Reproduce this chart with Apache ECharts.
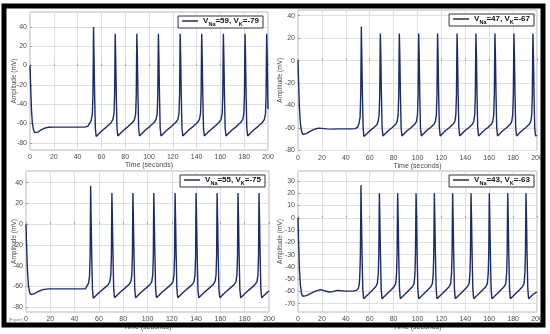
<!DOCTYPE html>
<html>
<head>
<meta charset="utf-8">
<script src="https://cdn.jsdelivr.net/npm/echarts@6/dist/echarts.min.js"></script>
<style>html,body{margin:0;padding:0;background:#fff;}#c{width:550px;height:334px;}</style>
</head>
<body>
<div id="c"></div>
<script>
// Time axis ticks (seconds)
const timeTicks = [0, 20, 40, 60, 80, 100, 120, 140, 160, 180, 200];
// Amplitude ticks for each panel (mV)
const ampTicks1 = [-80, -60, -40, -20, 0, 20, 40];
const ampTicks2 = [-80, -60, -40, -20, 0, 20, 40];
const ampTicks3 = [-80, -60, -40, -20, 0, 20, 40];
const ampTicks4 = [-70, -60, -50, -40, -30, -20, -10, 0, 10, 20, 30];

// Legend parameters
const vNa = [59, 47, 55, 43];
const vK = [-79, -67, -75, -63];

// Panel 1 trace: V_Na=59, V_K=-79 (time, mV)
const trace1 = [
[0,0],[0.5,-20],[1.2,-45],[2,-60],[3,-67],[4,-69.5],[5,-70],[6.5,-69],[9,-67],[12,-65],[15,-64],[20,-63.8],[30,-63.8],[40,-63.8],[46,-63.8],[48.5,-63],[50,-61.5],[51.4,-57],
[52.4,-50],[52.9,-30],[53.2,10],[53.4,40],[53.8,10],[54.3,-30],[54.9,-65],[55.6,-73.5],[56.9,-71.5],[60.4,-67.5],[64.4,-63.5],[67.9,-59.5],[69.6,-56],
[70.6,-50],[71.1,-30],[71.4,10],[71.6,33],[72.0,10],[72.5,-30],[73.1,-65],[73.8,-73],[75.1,-71],[78.6,-67],[82.6,-63],[86.1,-59],[87.8,-56],
[88.8,-50],[89.3,-30],[89.6,10],[89.8,33],[90.2,10],[90.7,-30],[91.3,-65],[92.0,-73],[93.3,-71],[96.8,-67],[100.8,-63],[104.3,-59],[105.9,-56],
[106.9,-50],[107.4,-30],[107.7,10],[107.9,33],[108.3,10],[108.8,-30],[109.4,-65],[110.1,-73],[111.4,-71],[114.9,-67],[118.9,-63],[122.4,-59],[124.2,-56],
[125.2,-50],[125.7,-30],[126.0,10],[126.2,33],[126.6,10],[127.1,-30],[127.7,-65],[128.4,-73],[129.7,-71],[133.2,-67],[137.2,-63],[140.7,-59],[142.3,-56],
[143.3,-50],[143.8,-30],[144.1,10],[144.3,33],[144.7,10],[145.2,-30],[145.8,-65],[146.5,-73],[147.8,-71],[151.3,-67],[155.3,-63],[158.8,-59],[160.5,-56],
[161.5,-50],[162.0,-30],[162.3,10],[162.5,33],[162.9,10],[163.4,-30],[164.0,-65],[164.7,-73],[166.0,-71],[169.5,-67],[173.5,-63],[177.0,-59],[178.7,-56],
[179.7,-50],[180.2,-30],[180.5,10],[180.7,33],[181.1,10],[181.6,-30],[182.2,-65],[182.9,-73],[184.2,-71],[187.7,-67],[191.7,-63],[195.2,-59],[196.9,-56],
[197.9,-50],[198.4,-30],[198.7,10],[198.9,33],[199.3,10],[199.8,-30],[200,-45]
];

// Panel 2 trace: V_Na=47, V_K=-67
const trace2 = [
[0,0],[0.5,-20],[1.2,-42],[2,-56],[3,-63],[4,-65.5],[5,-66],[7,-65],[10,-63],[14,-61],[17,-60.2],[20,-60.3],[24,-60.8],[28,-61],[35,-60.8],[45,-60.8],[48,-60.5],[50,-59],[51,-56],
[52.0,-50],[52.5,-30],[52.8,5],[53.0,30],[53.4,5],[53.9,-30],[54.5,-60],[55.2,-67.5],[56.5,-66],[59.5,-63],[63,-60],[66,-57],[67.1,-54],
[67.9,-48],[68.4,-30],[68.7,5],[68.9,24],[69.3,5],[69.8,-30],[70.4,-60],[71.1,-67],[72.4,-65.5],[75.4,-62.5],[78.9,-59.5],[81.9,-56.5],[83.0,-54],
[83.8,-48],[84.3,-30],[84.6,5],[84.8,24],[85.2,5],[85.7,-30],[86.3,-60],[87.0,-67],[88.3,-65.5],[91.3,-62.5],[94.8,-59.5],[97.8,-56.5],[99.2,-54],
[100.0,-48],[100.5,-30],[100.8,5],[101.0,24],[101.4,5],[101.9,-30],[102.5,-60],[103.2,-67],[104.5,-65.5],[107.5,-62.5],[111.0,-59.5],[114.0,-56.5],[115.0,-54],
[115.8,-48],[116.3,-30],[116.6,5],[116.8,24],[117.2,5],[117.7,-30],[118.3,-60],[119.0,-67],[120.3,-65.5],[123.3,-62.5],[126.8,-59.5],[129.8,-56.5],[131.3,-54],
[132.1,-48],[132.6,-30],[132.9,5],[133.1,24],[133.5,5],[134.0,-30],[134.6,-60],[135.3,-67],[136.6,-65.5],[139.6,-62.5],[143.1,-59.5],[146.1,-56.5],[147.1,-54],
[147.9,-48],[148.4,-30],[148.7,5],[148.9,24],[149.3,5],[149.8,-30],[150.4,-60],[151.1,-67],[152.4,-65.5],[155.4,-62.5],[158.9,-59.5],[161.9,-56.5],[163.0,-54],
[163.8,-48],[164.3,-30],[164.6,5],[164.8,24],[165.2,5],[165.7,-30],[166.3,-60],[167.0,-67],[168.3,-65.5],[171.3,-62.5],[174.8,-59.5],[177.8,-56.5],[178.9,-54],
[179.7,-48],[180.2,-30],[180.5,5],[180.7,24],[181.1,5],[181.6,-30],[182.2,-60],[182.9,-67],[184.2,-65.5],[187.2,-62.5],[190.7,-59.5],[193.7,-56.5],[194.8,-54],
[195.6,-48],[196.1,-30],[196.4,5],[196.6,24],[197.0,5],[197.5,-30],[198.1,-60],[198.8,-67],[200,-66.5]
];

// Panel 3 trace: V_Na=55, V_K=-75
const trace3 = [
[0,0],[0.5,-22],[1.2,-45],[2,-59],[3,-66],[4,-68],[5,-68.2],[7,-67],[10,-65],[14,-63.2],[18,-62.5],[25,-62.5],[35,-62.5],[45,-62.5],[49,-62.3],[50.5,-61],[51.5,-57],
[52.3,-50],[52.8,-30],[53.0,5],[53.2,37],[53.6,5],[54.1,-30],[54.7,-63],[55.4,-71.5],[56.7,-70],[60.2,-66],[64.2,-62],[67.7,-58.5],[69.0,-55.5],
[69.8,-49],[70.3,-30],[70.5,5],[70.7,30],[71.1,5],[71.6,-30],[72.2,-63],[72.9,-71],[74.2,-69.5],[77.7,-65.5],[81.7,-61.5],[85.0,-58],[86.3,-55.5],
[87.1,-49],[87.6,-30],[87.8,5],[88.0,30],[88.4,5],[88.9,-30],[89.5,-63],[90.2,-71],[91.5,-69.5],[95.0,-65.5],[99.0,-61.5],[102.3,-58],[103.5,-55.5],
[104.3,-49],[104.8,-30],[105.0,5],[105.2,30],[105.6,5],[106.1,-30],[106.7,-63],[107.4,-71],[108.7,-69.5],[112.2,-65.5],[116.2,-61.5],[119.5,-58],[121.0,-55.5],
[121.8,-49],[122.3,-30],[122.5,5],[122.7,30],[123.1,5],[123.6,-30],[124.2,-63],[124.9,-71],[126.2,-69.5],[129.7,-65.5],[133.7,-61.5],[137.0,-58],[138.3,-55.5],
[139.1,-49],[139.6,-30],[139.8,5],[140.0,30],[140.4,5],[140.9,-30],[141.5,-63],[142.2,-71],[143.5,-69.5],[147.0,-65.5],[151.0,-61.5],[154.3,-58],[155.6,-55.5],
[156.4,-49],[156.9,-30],[157.1,5],[157.3,30],[157.7,5],[158.2,-30],[158.8,-63],[159.5,-71],[160.8,-69.5],[164.3,-65.5],[168.3,-61.5],[171.6,-58],[172.8,-55.5],
[173.6,-49],[174.1,-30],[174.3,5],[174.5,30],[174.9,5],[175.4,-30],[176.0,-63],[176.7,-71],[178.0,-69.5],[181.5,-65.5],[185.5,-61.5],[188.8,-58],[190.1,-55.5],
[190.9,-49],[191.4,-30],[191.6,5],[191.8,30],[192.2,5],[192.7,-30],[193.3,-63],[194.0,-71],[195.3,-69.5],[198.0,-66.5],[200,-64.5]
];

// Panel 4 trace: V_Na=43, V_K=-63
const trace4 = [
[0,0],[0.5,-20],[1.2,-42],[2,-55],[3,-62],[4,-64],[5,-64.2],[7,-63.5],[10,-62],[14,-60],[19,-58.6],[22,-59.5],[26,-60.5],[29,-60.2],[33,-59.2],[36,-59.5],[40,-59.8],[46,-59.8],[49,-59.2],[50.5,-57.5],[51.3,-54],
[51.8,-45],[52.2,-30],[52.5,0],[52.7,26.5],[53.1,0],[53.6,-30],[54.2,-58],[54.9,-66],[56.2,-64.8],[59.2,-62],[62.2,-59],[65.2,-56],[66.4,-53.5],
[67.2,-45],[67.6,-30],[67.9,0],[68.1,20],[68.5,0],[69.0,-30],[69.6,-58],[70.3,-66],[71.6,-64.8],[74.6,-62],[77.6,-59],[80.6,-56],[81.8,-53.5],
[82.5,-45],[82.9,-30],[83.2,0],[83.4,20],[83.8,0],[84.3,-30],[84.9,-58],[85.6,-66],[86.9,-64.8],[89.9,-62],[92.9,-59],[95.9,-56],[97.2,-53.5],
[97.9,-45],[98.3,-30],[98.6,0],[98.8,20],[99.2,0],[99.7,-30],[100.3,-58],[101.0,-66],[102.3,-64.8],[105.3,-62],[108.3,-59],[111.3,-56],[112.5,-53.5],
[113.2,-45],[113.6,-30],[113.9,0],[114.1,20],[114.5,0],[115.0,-30],[115.6,-58],[116.3,-66],[117.6,-64.8],[120.6,-62],[123.6,-59],[126.6,-56],[127.8,-53.5],
[128.5,-45],[128.9,-30],[129.2,0],[129.4,20],[129.8,0],[130.3,-30],[130.9,-58],[131.6,-66],[132.9,-64.8],[135.9,-62],[138.9,-59],[141.9,-56],[143.2,-53.5],
[143.9,-45],[144.3,-30],[144.6,0],[144.8,20],[145.2,0],[145.7,-30],[146.3,-58],[147.0,-66],[148.3,-64.8],[151.3,-62],[154.3,-59],[157.3,-56],[158.5,-53.5],
[159.2,-45],[159.6,-30],[159.9,0],[160.1,20],[160.5,0],[161.0,-30],[161.6,-58],[162.3,-66],[163.6,-64.8],[166.6,-62],[169.6,-59],[172.6,-56],[173.9,-53.5],
[174.6,-45],[175.0,-30],[175.3,0],[175.5,20],[175.9,0],[176.4,-30],[177.0,-58],[177.7,-66],[179.0,-64.8],[182.0,-62],[185.0,-59],[188.0,-56],[189.2,-53.5],
[189.9,-45],[190.3,-30],[190.6,0],[190.8,20],[191.2,0],[191.7,-30],[192.3,-58],[193.0,-66],[194.3,-64.8],[197.3,-62],[200,-60.5]
];

const traces = [trace1, trace2, trace3, trace4];
const ampTicks = [ampTicks1, ampTicks2, ampTicks3, ampTicks4];

// layout (pixels)
const grids = [
  {left: 30, right: 282, top: 12, bottom: 184},
  {left: 298, right: 13, top: 10, bottom: 183.5},
  {left: 26, right: 281, top: 171, bottom: 22},
  {left: 298, right: 13, top: 171, bottom: 22}
];
const yRange = [[-87.5, 55.5], [-80, 45], [-84.8, 51.3], [-76.8, 38.1]];
const legendPos = [
  {right: 287, top: 16},
  {right: 16, top: 14},
  {right: 285, top: 175},
  {right: 16, top: 175}
];
const nameGapY = [12.5, 14.5, 8.5, 14.5];

const lineColor = '#1c2a6e';
const gridColor = '#dedee6';
const labelColor = '#4a4a4a';

const option = {
  backgroundColor: '#fff',
  animation: false,
  grid: grids.map(g => Object.assign({show: true, borderColor: '#b8b8b8', borderWidth: 1, backgroundColor: 'transparent'}, g)),
  xAxis: grids.map((g, i) => ({
    type: 'value', gridIndex: i, min: 0, max: 200, interval: 20,
    name: 'Time (seconds)', nameLocation: 'middle', nameGap: 12, nameMoveOverlap: false,
    nameTextStyle: {fontSize: 7, color: labelColor, fontFamily: 'Liberation Sans'},
    axisLine: {show: false},
    axisTick: {show: true, inside: true, length: 2, lineStyle: {color: '#999'}},
    axisLabel: {fontSize: 7, color: labelColor, margin: 4, fontFamily: 'Liberation Sans'},
    splitLine: {show: true, lineStyle: {color: gridColor, width: 1}}
  })),
  yAxis: grids.map((g, i) => ({
    type: 'value', gridIndex: i, min: yRange[i][0], max: yRange[i][1],
    name: 'Amplitude (mV)', nameLocation: 'middle', nameGap: nameGapY[i], nameMoveOverlap: false,
    nameTextStyle: {fontSize: 6.5, color: labelColor, fontFamily: 'Liberation Sans'},
    axisLine: {show: false},
    axisTick: {show: true, inside: true, length: 2, lineStyle: {color: '#999'}, customValues: ampTicks[i]},
    axisLabel: {fontSize: 7, color: labelColor, margin: 3, fontFamily: 'Liberation Sans', customValues: ampTicks[i]},
    splitLine: {show: true, lineStyle: {color: gridColor, width: 1}}
  })),
  legend: grids.map((g, i) => Object.assign({
    data: ['s' + i],
    orient: 'horizontal',
    backgroundColor: '#fff',
    borderColor: '#333',
    borderWidth: 1,
    borderRadius: 0,
    padding: [1, 4, 1, 4],
    icon: 'rect',
    itemWidth: 16,
    itemHeight: 1.5,
    itemGap: 3,
    formatter: () => '{a|V}{s|Na}{a|=' + vNa[i] + ', V}{s|K}{a|=' + vK[i] + '}',
    textStyle: {
      fontSize: 8, color: '#111', fontFamily: 'Liberation Sans',
      rich: {
        a: {fontSize: 8, fontWeight: 'bold', color: '#111', fontFamily: 'Liberation Sans', lineHeight: 12},
        s: {fontSize: 5.5, fontWeight: 'bold', color: '#111', fontFamily: 'Liberation Sans', lineHeight: 12, verticalAlign: 'bottom'}
      }
    }
  }, legendPos[i])),
  series: traces.map((tr, i) => ({
    name: 's' + i,
    type: 'line',
    xAxisIndex: i, yAxisIndex: i,
    data: tr,
    showSymbol: false,
    symbol: 'none',
    lineStyle: {color: lineColor, width: 1.4},
    itemStyle: {color: lineColor},
    clip: true
  })),
  graphic: [
    {type: 'rect', z: 100, shape: {x: 4, y: 6, width: 539, height: 319}, style: {fill: 'none', stroke: '#000', lineWidth: 5}},
    {type: 'text', z: 100, left: 9, top: 318, style: {text: '[Figure]', fontSize: 4, fill: '#777'}}
  ]
};

const chart = echarts.init(document.getElementById('c'), null, {renderer: 'canvas'});
chart.setOption(option);
</script>
</body>
</html>
